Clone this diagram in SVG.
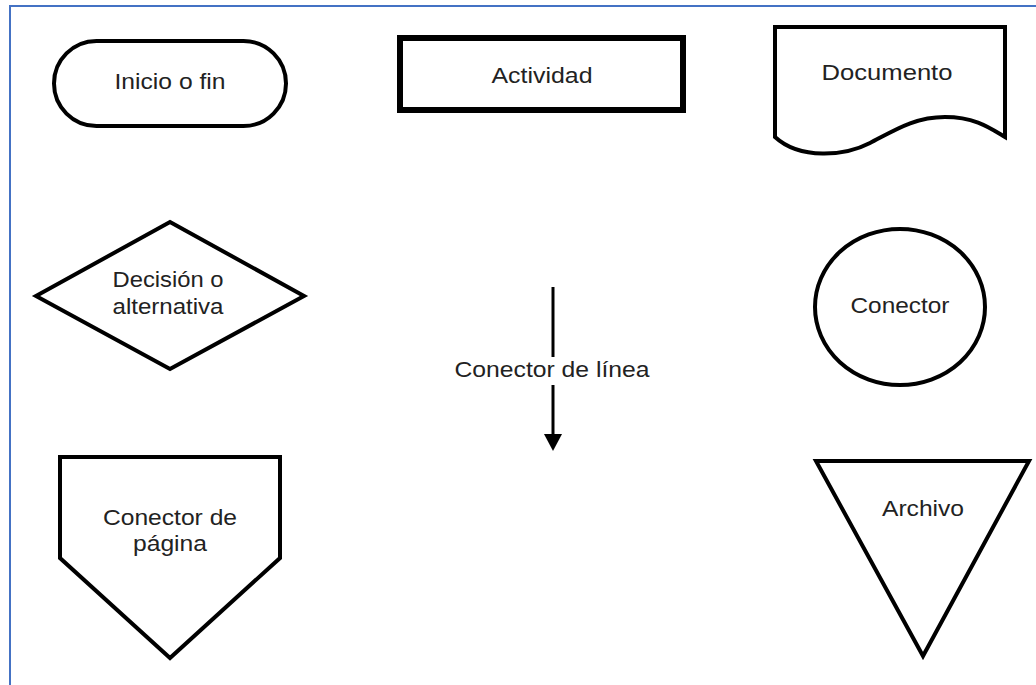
<svg xmlns="http://www.w3.org/2000/svg" width="1036" height="685" viewBox="0 0 1036 685">
  <style>
    .shape { fill: #ffffff; stroke: #000000; stroke-width: 4; stroke-linejoin: miter; }
    .label { font-family: "Liberation Sans", Arial, sans-serif; font-size: 22px; fill: #222222; text-anchor: middle; }
    .frame { fill: none; stroke: #4472C4; stroke-width: 2; }
    .link { stroke: #000000; stroke-width: 3; fill: none; }
  </style>
  <rect width="1036" height="685" fill="#ffffff"/>
  <!-- outer frame: top and left edges -->
  <path class="frame" d="M10,685 V6 H1036"/>

  <g id="inicio-fin">
    <rect class="shape" x="54" y="41" width="232" height="85" rx="42.5" ry="42.5"/>
    <text class="label" x="170" y="89" textLength="111" lengthAdjust="spacingAndGlyphs">Inicio o fin</text>
  </g>

  <g id="actividad">
    <rect class="shape" x="400" y="38" width="283" height="72" style="stroke-width:6"/>
    <text class="label" x="542" y="83" textLength="101" lengthAdjust="spacingAndGlyphs">Actividad</text>
  </g>

  <g id="documento">
    <path class="shape" d="M775,27 H1005 V137 C990,128 975,117 945,117 C915,117 895,130 870,143 C845,156 800,160 775,137 Z"/>
    <text class="label" x="887" y="80" textLength="131" lengthAdjust="spacingAndGlyphs">Documento</text>
  </g>

  <g id="decision">
    <polygon class="shape" points="170,222 304,296 170,369 36,296"/>
    <text class="label" x="168" y="287" textLength="111" lengthAdjust="spacingAndGlyphs">Decisión o</text>
    <text class="label" x="168" y="314" textLength="111" lengthAdjust="spacingAndGlyphs">alternativa</text>
  </g>

  <g id="conector">
    <ellipse class="shape" cx="900" cy="307" rx="85" ry="78"/>
    <text class="label" x="900" y="313" textLength="99" lengthAdjust="spacingAndGlyphs">Conector</text>
  </g>

  <g id="conector-pagina">
    <polygon class="shape" points="60,457 280,457 280,558 170,658 60,558"/>
    <text class="label" x="170" y="525" textLength="134" lengthAdjust="spacingAndGlyphs">Conector de</text>
    <text class="label" x="170" y="551" textLength="74" lengthAdjust="spacingAndGlyphs">página</text>
  </g>

  <g id="archivo">
    <polygon class="shape" points="816,461 1029,461 923,656"/>
    <text class="label" x="923" y="516" textLength="82" lengthAdjust="spacingAndGlyphs">Archivo</text>
  </g>

  <g id="conector-linea">
    <line class="link" x1="553" y1="287" x2="553" y2="357"/>
    <line class="link" x1="553" y1="385" x2="553" y2="436"/>
    <polygon points="544,434 562,434 553,451" fill="#000000"/>
    <text class="label" x="552" y="377" textLength="195" lengthAdjust="spacingAndGlyphs">Conector de línea</text>
  </g>
</svg>
